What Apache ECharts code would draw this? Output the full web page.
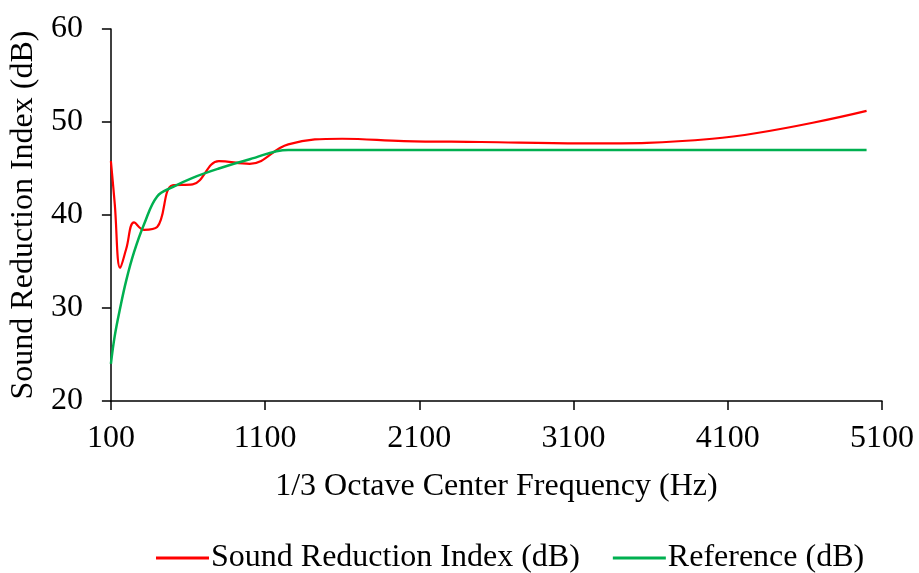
<!DOCTYPE html>
<html>
<head>
<meta charset="utf-8">
<script src="https://cdn.jsdelivr.net/npm/echarts@6/dist/echarts.min.js"></script>
<style>html,body{margin:0;padding:0;background:#fff;}#c{width:919px;height:573px;}</style>
</head>
<body>
<div id="c"></div>
<script>
const frequencies = [100,125,160,200,250,315,400,500,630,800,1000,1250,1600,2000,2500,3150,4000,5000];
const soundReduction = [45.8,41.2,34.3,36.4,39.2,38.4,38.7,43.2,43.3,45.8,45.5,47.6,48.2,47.95,47.85,47.7,48.2,51.2];
const referenceCurve = [24,27,30,33,36,39,42,43,44,45,46,47,47,47,47,47,47,47];
const xTicks = [100,1100,2100,3100,4100,5100];
const yTicks = [20,30,40,50,60];
const seriesNames = ['Sound Reduction Index (dB)','Reference (dB)'];

const font = 'Liberation Serif';
const fs = 32;
const chart = echarts.init(document.getElementById('c'));
chart.setOption({
  animation: false,
  grid: {left: 110, right: 37, top: 29, bottom: 172, containLabel: false},
  legend: {
    left: 151, top: 537,
    itemWidth: 53, itemHeight: 3, itemGap: 33,
    icon: 'rect',
    textStyle: {fontFamily: font, fontSize: fs, color: '#000', padding: [0,0,0,-3]},
    data: seriesNames
  },
  xAxis: {
    type: 'value', min: 100, max: 5100,
    name: '1/3 Octave Center Frequency (Hz)', nameLocation: 'middle', nameGap: 70,
    nameTextStyle: {fontFamily: font, fontSize: fs, color: '#000'},
    axisLine: {lineStyle: {color: '#000', width: 1.5}},
    axisTick: {show: true, length: 9, lineStyle: {color: '#000', width: 1.5}, customValues: xTicks},
    axisLabel: {fontFamily: font, fontSize: fs, color: '#000', margin: 22, customValues: xTicks,
      formatter: v => String(v)},
    splitLine: {show: false}
  },
  yAxis: {
    type: 'value', min: 20, max: 60, interval: 10,
    name: 'Sound Reduction Index (dB)', nameLocation: 'middle', nameGap: 56, nameRotate: 90,
    nameTextStyle: {fontFamily: font, fontSize: fs, color: '#000'},
    axisLine: {show: true, lineStyle: {color: '#000', width: 1.5}},
    axisTick: {show: true, length: 9, lineStyle: {color: '#000', width: 1.5}, customValues: yTicks},
    axisLabel: {fontFamily: font, fontSize: fs, color: '#000', margin: 28, customValues: yTicks,
      formatter: v => String(v)},
    splitLine: {show: false}
  },
  series: [
    {
      name: seriesNames[0], type: 'line', smooth: 0.4, symbol: 'none',
      lineStyle: {color: '#FF0000', width: 2.2},
      itemStyle: {color: '#FF0000'},
      data: frequencies.map((f, i) => [f, soundReduction[i]])
    },
    {
      name: seriesNames[1], type: 'line', smooth: 0.4, symbol: 'none',
      lineStyle: {color: '#00B050', width: 2.5},
      itemStyle: {color: '#00B050'},
      data: frequencies.map((f, i) => [f, referenceCurve[i]])
    }
  ]
});
</script>
</body>
</html>
